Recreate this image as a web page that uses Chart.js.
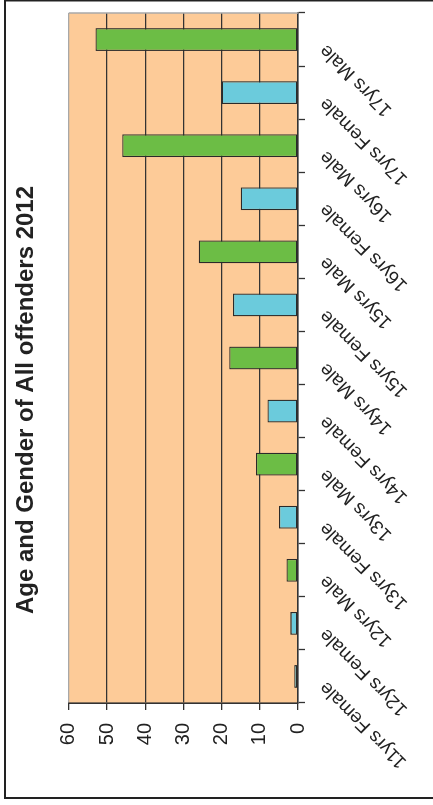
<!DOCTYPE html>
<html>
<head>
<meta charset="utf-8">
<script src="https://cdn.jsdelivr.net/npm/chart.js@4/dist/chart.umd.min.js"></script>
<style>
  html, body { margin: 0; padding: 0; background: #ffffff; overflow: hidden; }
  body { width: 433px; height: 805px; position: relative; }
  /* The chart is laid out landscape and turned a quarter turn anticlockwise */
  #wrap {
    position: absolute; left: 0; top: 0;
    width: 805px; height: 433px;
    transform-origin: 0 0;
    transform: translateY(805px) rotate(-90deg);
  }
  canvas { display: block; }
</style>
</head>
<body>
<div id="wrap"><canvas id="chart" width="805" height="433"></canvas></div>
<script>
const chartTitle = 'Age and Gender of All offenders 2012';
const categories = [
  '11yrs Female', '12yrs Female', '12yrs Male', '13yrs Female', '13yrs Male',
  '14yrs Female', '14yrs Male', '15yrs Female', '15yrs Male', '16yrs Female',
  '16yrs Male', '17yrs Female', '17yrs Male'
];
const offenders = [1, 2, 3, 5, 11, 8, 18, 17, 26, 15, 46, 20, 53];
const valueTicks = [0, 10, 20, 30, 40, 50, 60];

const MALE_FILL = '#6cbd45';
const FEMALE_FILL = '#6bcbdc';
const PLOT_FILL = '#fdcb98';
const INK = '#222222';

// peach plot background, grey outer edge of the plot and the page frame
const framePlugin = {
  id: 'frame',
  beforeDraw(chart) {
    const { ctx, chartArea: a } = chart;
    ctx.save();
    ctx.fillStyle = PLOT_FILL;
    ctx.fillRect(a.left, a.top, a.right - a.left, a.bottom - a.top);
    ctx.restore();
  },
  afterDraw(chart) {
    const { ctx, chartArea: a } = chart;
    ctx.save();
    ctx.strokeStyle = '#a8a8a8';
    ctx.lineWidth = 1.5;
    ctx.beginPath();
    ctx.moveTo(a.right, a.top);
    ctx.lineTo(a.right, a.bottom);
    ctx.stroke();
    ctx.strokeStyle = INK;
    ctx.lineWidth = 2;
    ctx.strokeRect(7, 5, 797.5, 500);
    ctx.restore();
  }
};

new Chart(document.getElementById('chart'), {
  type: 'bar',
  data: {
    labels: categories,
    datasets: [{
      label: 'Offenders',
      data: offenders,
      backgroundColor: categories.map(c => c.endsWith('Male') && !c.endsWith('Female') ? MALE_FILL : FEMALE_FILL),
      borderColor: '#2a2a2a',
      borderWidth: 1.3,
      borderSkipped: false,
      barPercentage: 0.43,
      categoryPercentage: 1
    }]
  },
  options: {
    responsive: false,
    animation: false,
    devicePixelRatio: 1,
    layout: { padding: { left: 18, right: 13, top: 0, bottom: 0 } },
    plugins: {
      legend: { display: false },
      tooltip: { enabled: false },
      title: {
        display: true,
        text: chartTitle,
        color: INK,
        font: { family: 'Liberation Sans', size: 24, weight: 'bold' },
        padding: { top: 12, bottom: 28 }
      }
    },
    scales: {
      x: {
        type: 'category',
        offset: true,
        grid: {
          offset: true,
          drawOnChartArea: false,
          drawTicks: true,
          tickLength: 7,
          tickColor: '#333333',
          tickWidth: 1.3
        },
        border: { display: true, color: '#333333', width: 1.6 },
        ticks: {
          color: INK,
          font: { family: 'Liberation Sans', size: 19 },
          minRotation: 45,
          maxRotation: 45,
          autoSkip: false,
          padding: 10,
          labelOffset: -8
        },
        afterFit(scale) { scale.height = 135; }
      },
      y: {
        min: 0,
        max: 60,
        afterBuildTicks(scale) { scale.ticks = valueTicks.map(v => ({ value: v })); },
        grid: {
          color: ctx => (ctx.tick && ctx.tick.value === 60 ? '#a8a8a8' : '#333333'),
          lineWidth: 1.3,
          tickLength: 7,
          tickColor: '#333333',
          tickWidth: 1.3
        },
        border: { display: true, color: '#333333', width: 1.6 },
        ticks: {
          color: INK,
          font: { family: 'Liberation Sans', size: 20 },
          padding: 13
        },
        afterFit(scale) { scale.width = 84; }
      }
    }
  },
  plugins: [framePlugin]
});
</script>
</body>
</html>
